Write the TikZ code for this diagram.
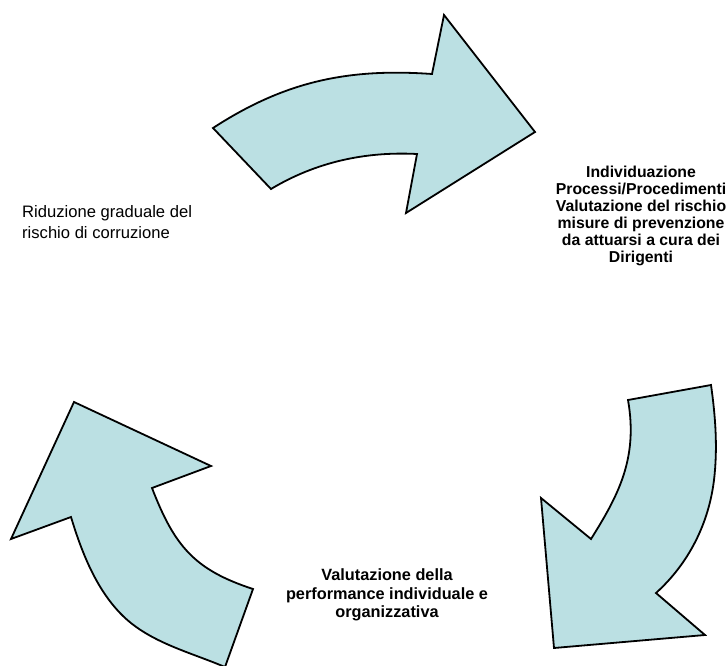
\documentclass[tikz,border=0pt]{standalone}
\usepackage{fontspec}
\setmainfont{Liberation Sans}
\definecolor{arrowfill}{RGB}{187,224,227}
\begin{document}
\begin{tikzpicture}[x=1pt,y=-1pt,
  arrowshape/.style={fill=arrowfill, draw=black, line width=1.8pt, line join=miter},
  boldlabel/.style={inner sep=0pt, align=center, font=\fontsize{15.8}{17}\selectfont\bfseries},
  plainlabel/.style={inner sep=0pt, align=left, font=\fontsize{16.6}{21}\selectfont}]
\useasboundingbox (0,0) rectangle (728,666);
% top arrow
\path[arrowshape] (213,128) .. controls (284.3,81.7) and (347.2,68) .. (432,74)
  -- (444,15) -- (535,132) -- (406,213) -- (417,154)
  .. controls (365,151.3) and (315.6,162.2) .. (271,189) -- cycle;
% right arrow
\path[arrowshape] (628,400) -- (711,385)
  .. controls (715.5,416.7) and (717.8,448.2) .. (714,480)
  .. controls (708.7,523.7) and (688.6,563.5) .. (656,593)
  -- (705,635) -- (554,648) -- (541,498) -- (591,539)
  .. controls (617.5,496.6) and (638.4,459.1) .. (628,400) -- cycle;
% left arrow
\path[arrowshape] (74,402) -- (211,466) -- (152,488)
  .. controls (174.3,545.7) and (194.1,569.8) .. (253,589)
  -- (225,667)
  .. controls (190,652.2) and (150.2,642.5) .. (123,616)
  .. controls (96.5,590.2) and (81.7,552.4) .. (71,517)
  -- (11,539) -- cycle;
% labels
\node[boldlabel] (proc) at (641,216) {Individuazione\\Processi/Procedimenti\\Valutazione del rischio\\misure di prevenzione\\da attuarsi a cura dei\\Dirigenti};
\node[boldlabel, font=\fontsize{16.3}{18.5}\selectfont\bfseries] (perf) at (387,595) {Valutazione della\\performance individuale e\\organizzativa};
\node[plainlabel, anchor=west] (rid) at (22,222) {Riduzione graduale del\\rischio di corruzione};
\end{tikzpicture}
\end{document}
